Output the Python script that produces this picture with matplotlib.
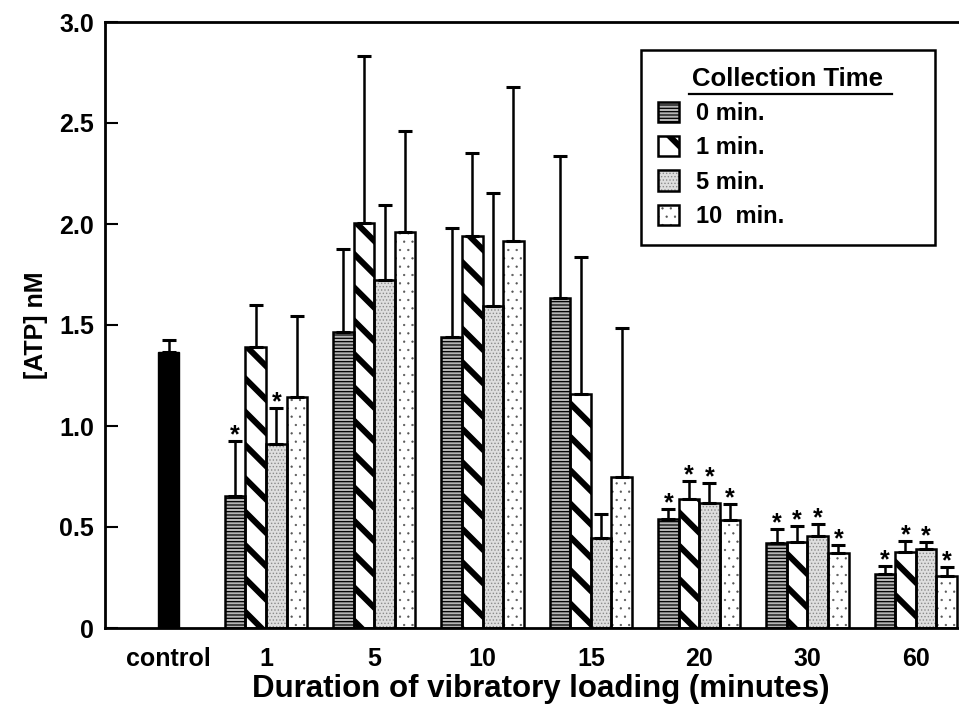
import matplotlib
matplotlib.use('Agg')
import matplotlib.pyplot as plt
from matplotlib.patches import Patch, Rectangle
from matplotlib.legend_handler import HandlerTuple
from matplotlib.lines import Line2D
import numpy as np

plt.rcParams['font.family'] = ['Liberation Sans', 'DejaVu Sans']
plt.rcParams['font.weight'] = 'bold'
plt.rcParams['axes.labelweight'] = 'bold'

# data
durations = ['1', '5', '10', '15', '20', '30', '60']
series_names = ['0 min.', '1 min.', '5 min.', '10  min.']

control_mean = 1.368
control_sd = 0.057

atp_0 = [0.655, 1.467, 1.442, 1.635, 0.538, 0.419, 0.269]
atp_1 = [1.390, 2.003, 1.940, 1.158, 0.638, 0.426, 0.376]
atp_5 = [0.910, 1.723, 1.594, 0.444, 0.620, 0.455, 0.393]
atp_10 = [1.145, 1.959, 1.917, 0.746, 0.535, 0.373, 0.257]

sd_0 = [0.27, 0.41, 0.54, 0.70, 0.05, 0.07, 0.038]
sd_1 = [0.21, 0.83, 0.41, 0.68, 0.09, 0.08, 0.056]
sd_5 = [0.18, 0.37, 0.56, 0.12, 0.10, 0.06, 0.033]
sd_10 = [0.40, 0.50, 0.76, 0.74, 0.08, 0.04, 0.043]

sig_0 = [1, 0, 0, 0, 1, 1, 1]
sig_1 = [0, 0, 0, 0, 1, 1, 1]
sig_5 = [1, 0, 0, 0, 1, 1, 1]
sig_10 = [0, 0, 0, 0, 1, 1, 1]

means = [atp_0, atp_1, atp_5, atp_10]
sds = [sd_0, sd_1, sd_5, sd_10]
sigs = [sig_0, sig_1, sig_5, sig_10]

# bar styles: (face, hatch, hatch colour, hatch linewidth)
styles = [
    ('#b5b5b5', '-----', 'black', 0.9),
    ('white', '\\', 'black', 4.3),
    ('#dedede', '.....', '#8a8a8a', 0.6),
    ('white', '..', '#555555', 0.4),
]
hatch_lw = {st[1]: st[3] for st in styles}


def hatched_bar(ax, x, h, w, style):
    face, hatch, hcol, hlw = style
    with plt.rc_context({'hatch.linewidth': hlw}):
        bars = ax.bar(x, h, w, color=face, edgecolor=hcol, hatch=hatch,
                      linewidth=0, zorder=2)
    for b in bars:
        if hasattr(b, 'set_hatch_linewidth'):
            b.set_hatch_linewidth(hlw)
    ax.bar(x, h, w, fill=False, edgecolor='black', linewidth=1.8, zorder=3)


fig = plt.figure(figsize=(9.59, 7.06), dpi=100)
ax = fig.add_axes([105 / 959, 1 - 628 / 706, 1 - 105 / 959, (628 - 22) / 706])

groups = np.arange(1, len(durations) + 1)
control_x = 0.1
w = 0.19

ax.bar(control_x, control_mean, 0.2, color='black', edgecolor='black', zorder=3)
ax.errorbar(control_x, control_mean, yerr=[[0], [control_sd]], fmt='none',
            ecolor='black', elinewidth=1.8, capsize=5, capthick=2.2, zorder=4)

for i in range(4):
    xs = groups + (i - 1.5) * w
    m = np.array(means[i])
    s = np.array(sds[i])
    hatched_bar(ax, xs, m, w, styles[i])
    ax.errorbar(xs, m, yerr=[np.zeros_like(s), s], fmt='none', ecolor='black',
                elinewidth=1.8, capsize=5, capthick=2.2, zorder=4)
    for x, top, flag in zip(xs, m + s, sigs[i]):
        if flag:
            ax.annotate('*', (x, top), xytext=(0, -1), textcoords='offset points',
                        ha='center', va='baseline', fontsize=18, zorder=5)

ax.set_xlim(-0.487, 7.40)
ax.set_ylim(0, 3.0)
ax.set_yticks([0, 0.5, 1.0, 1.5, 2.0, 2.5, 3.0])
ax.set_yticklabels(['0', '0.5', '1.0', '1.5', '2.0', '2.5', '3.0'])
ax.set_xticks(np.concatenate([[control_x], groups]))
ax.set_xticklabels(['control'] + durations)
ax.tick_params(axis='y', direction='in', length=9, width=1.5, pad=8, labelsize=18)
ax.tick_params(axis='x', length=0, pad=14, labelsize=18)
for sp in ['left', 'top', 'bottom']:
    ax.spines[sp].set_linewidth(2)
ax.spines['right'].set_visible(False)

ax.set_ylabel('[ATP] nM', fontsize=18, labelpad=8)
ax.set_xlabel('Duration of vibratory loading (minutes)', fontsize=22.5)
ax.xaxis.set_label_coords(0.5105, -0.076)

# legend
handles = []
for st in styles:
    face, hatch, hcol, hlw = st
    p1 = Patch(facecolor=face, edgecolor=hcol, hatch=hatch, linewidth=0)
    p2 = Patch(fill=False, edgecolor='black', linewidth=1.8)
    handles.append((p1, p2))

leg = ax.legend(handles, series_names, handler_map={tuple: HandlerTuple(ndivide=1, pad=0)},
                title='Collection Time', loc='upper left', mode='expand',
                bbox_to_anchor=(641 / 959, 1 - 243 / 706, 294 / 959, 193 / 706),
                bbox_transform=fig.transFigure,
                borderaxespad=0, fancybox=False, edgecolor='black', framealpha=1,
                fontsize=17, title_fontsize=18.5, handlelength=0.9, handleheight=0.95,
                handletextpad=0.75, labelspacing=0.47, borderpad=0.7, alignment='center')
leg.get_frame().set_linewidth(1.8)
leg.get_title().set_fontweight('bold')
for p in leg.findobj(Rectangle):
    h = p.get_hatch()
    if h in hatch_lw and hasattr(p, 'set_hatch_linewidth'):
        p.set_hatch_linewidth(hatch_lw[h])

fig.canvas.draw()
tb = leg.get_title().get_window_extent()
inv = fig.transFigure.inverted()
(x0, y0), (x1, y1) = inv.transform([(tb.x0 - 4, tb.y0 - 3), (tb.x1 + 8, tb.y0 - 3)])
fig.add_artist(Line2D([x0, x1], [y0, y1], color='black', linewidth=1.6, transform=fig.transFigure))

fig.savefig('out.png', dpi=100)
